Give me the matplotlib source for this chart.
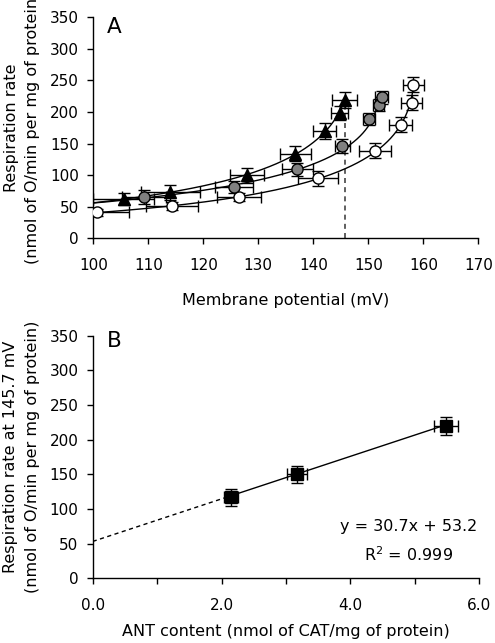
import numpy as np
import matplotlib
matplotlib.use("Agg")
import matplotlib.pyplot as plt

plt.rcParams['font.family'] = ['DejaVu Sans']

# ---- Panel A data ----
tri_x = [105.5, 114.0, 127.9, 136.7, 142.1, 144.8, 145.7]
tri_y = [62, 73, 100, 134, 170, 199, 219]
tri_xerr = [5.5, 5.4, 3.1, 2.8, 2.1, 1.5, 2.3]
tri_yerr = [9, 12, 12, 12, 12, 11, 12]

gry_x = [109.2, 125.6, 137.1, 145.3, 150.2, 151.9, 152.4]
gry_y = [65, 81, 109, 146, 189, 211, 223]
gry_xerr = [4.0, 3.5, 2.8, 1.3, 1.1, 1.0, 1.1]
gry_yerr = [11, 10, 11, 11, 10, 10, 11]

wht_x = [100.7, 114.3, 126.4, 140.9, 151.2, 155.9, 157.9, 158.2]
wht_y = [41, 51, 65, 95, 139, 180, 215, 243]
wht_xerr = [5.7, 4.8, 4.0, 3.6, 2.9, 2.1, 1.9, 1.9]
wht_yerr = [6, 6, 6, 12, 12, 12, 12, 12]

ref_potential = 145.7
ref_rate = 219

# ---- Panel B data ----
ant_x = [2.15, 3.17, 5.48]
ant_y = [117, 150, 220]
ant_xerr = [0.11, 0.15, 0.19]
ant_yerr = [12.5, 11.8, 12.7]
slope, intercept = 30.7, 53.2

fig = plt.figure(figsize=(4.95, 6.43), dpi=100)
axA = fig.add_axes([0.1885, 0.6294, 0.7778, 0.3437])
axB = fig.add_axes([0.1873, 0.1006, 0.781, 0.3773])

def style(ax):
    for s in ['top', 'right']:
        ax.spines[s].set_visible(False)
    ax.spines['left'].set_linewidth(1.0)
    ax.spines['bottom'].set_linewidth(1.0)
    ax.tick_params(which='both', direction='out', length=4.3, width=1, labelsize=11)
    ax.tick_params(axis='x', which='both', pad=10)
    ax.tick_params(axis='y', pad=6)

def fit_curve(xs, ys, y_lo, y_hi):
    # potential as a quadratic function of log(rate)
    p = np.polyfit(np.log(ys), xs, 2)
    yy = np.linspace(y_lo, y_hi, 400)
    return np.polyval(p, np.log(yy)), yy

# curves
cx, cy = fit_curve(tri_x, tri_y, 40, tri_y[-1])
axA.plot(cx, cy, color='black', lw=1, zorder=2)
cx, cy = fit_curve(gry_x, gry_y, 40, gry_y[-1])
axA.plot(cx, cy, color='black', lw=1, zorder=2)
cx, cy = fit_curve(wht_x, wht_y, wht_y[0], wht_y[-1])
axA.plot(cx, cy, color='black', lw=1, zorder=2)

axA.plot([ref_potential, ref_potential], [0, ref_rate], ls=(0, (3, 2.5)),
         color='#444444', lw=1.2, zorder=1)

ekw = dict(ecolor='black', elinewidth=1, capsize=4, capthick=1, ls='none', zorder=3)
axA.errorbar(wht_x, wht_y, xerr=wht_xerr, yerr=wht_yerr, marker='o', ms=8,
             mfc='white', mec='black', mew=1, **ekw)
axA.errorbar(gry_x, gry_y, xerr=gry_xerr, yerr=gry_yerr, marker='o', ms=8,
             mfc='#808080', mec='black', mew=1, **ekw)
axA.errorbar(tri_x, tri_y, xerr=tri_xerr, yerr=tri_yerr, marker='^', ms=8.5,
             mfc='black', mec='black', mew=1, **ekw)

axA.set_xlim(100, 170)
axA.set_ylim(0, 350)
axA.set_xticks(np.arange(100, 171, 10))
axA.set_yticks(np.arange(0, 351, 50))
style(axA)
axA.set_xlabel('Membrane potential (mV)', fontsize=11.5, labelpad=14)
axA.set_ylabel('Respiration rate\n(nmol of O/min per mg of protein)', fontsize=11.5,
               labelpad=7, linespacing=1.55)
axA.text(0.036, 1.0, 'A', transform=axA.transAxes, fontsize=15.5, va='top', ha='left')

# ---- Panel B ----
xs_fit = np.array([0, ant_x[0]])
axB.plot(xs_fit, slope * xs_fit + intercept, color='black', lw=1, ls=(0, (3, 2.5)), zorder=2)
xs_fit = np.array([ant_x[0], ant_x[-1]])
axB.plot(xs_fit, slope * xs_fit + intercept, color='black', lw=1, zorder=2)
axB.errorbar(ant_x, ant_y, xerr=ant_xerr, yerr=ant_yerr, marker='s', ms=8,
             mfc='black', mec='black', mew=1, **ekw)
axB.set_xlim(0, 6)
axB.set_ylim(0, 350)
axB.set_xticks([0, 2, 4, 6])
axB.set_xticklabels(['0.0', '2.0', '4.0', '6.0'])
axB.set_xticks([1, 3, 5], minor=True)
axB.set_yticks(np.arange(0, 351, 50))
style(axB)
axB.set_xlabel('ANT content (nmol of CAT/mg of protein)', fontsize=11.5, labelpad=8)
axB.set_ylabel('Respiration rate at 145.7 mV\n(nmol of O/min per mg of protein)',
               fontsize=11.5, labelpad=7, linespacing=1.55)
axB.text(0.036, 1.02, 'B', transform=axB.transAxes, fontsize=15.5, va='top', ha='left')
axB.text(0.818, 0.213, 'y = 30.7x + 53.2', transform=axB.transAxes, fontsize=11.5,
         ha='center', va='center')
axB.text(0.818, 0.096, 'R$^2$ = 0.999', transform=axB.transAxes, fontsize=11.5,
         ha='center', va='center')

fig.savefig('out.png', dpi=100)
